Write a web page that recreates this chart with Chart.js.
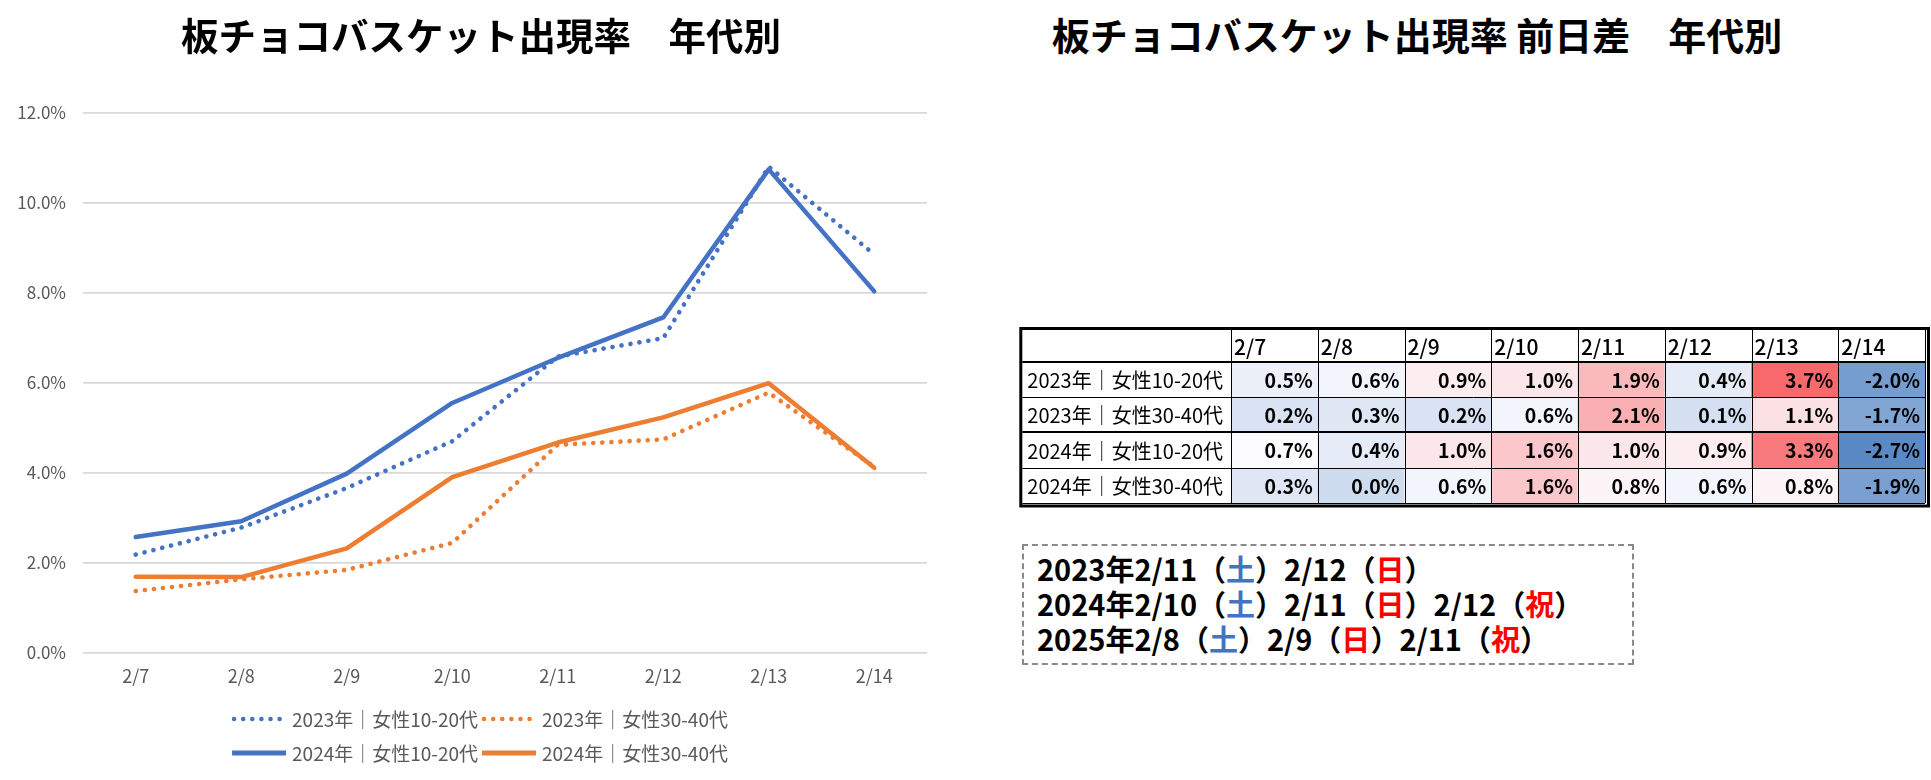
<!DOCTYPE html>
<html lang="ja">
<head>
<meta charset="utf-8">
<script src="https://cdn.jsdelivr.net/npm/chart.js@4.4.1/dist/chart.umd.min.js"></script>
<style>
  html, body { margin: 0; padding: 0; background: #fff; }
  body { width: 1931px; height: 780px; position: relative; overflow: hidden;
         font-family: 'Noto Sans CJK JP', 'Noto Sans', sans-serif; }
  #lineChart { position: absolute; left: 0; top: 0; }
  #tableChart { position: absolute; left: 1015px; top: 318px; }
  .title { position: absolute; top: 10.5px; transform: translateX(-50%);
           font-weight: bold; line-height: 46px; white-space: pre; color: #000; }
  #title1 { left: 481px; font-size: 37.5px; }
  #title2 { left: 1417px; font-size: 38px; }
  #note { position: absolute; left: 1022px; top: 544px; width: 608px; height: 117px;
          border: 2px dashed #8a8a8a; box-sizing: content-box; }
  #note .ln { position: absolute; left: 13px; font-size: 29px; font-weight: bold; line-height: 35px;
              white-space: pre; color: #000; }
  .sat { color: #4472C4; }
  .hol { color: #FF0000; }
</style>
</head>
<body>
<canvas id="lineChart" width="960" height="780"></canvas>
<div id="title1" class="title"></div>
<div id="title2" class="title"></div>
<canvas id="tableChart" width="916" height="200"></canvas>
<div id="note">
  <div class="ln" style="top:5px">2023年2/11（<span class="sat">土</span>）2/12（<span class="hol">日</span>）</div>
  <div class="ln" style="top:40px">2024年2/10（<span class="sat">土</span>）2/11（<span class="hol">日</span>）2/12（<span class="hol">祝</span>）</div>
  <div class="ln" style="top:75px">2025年2/8（<span class="sat">土</span>）2/9（<span class="hol">日</span>）2/11（<span class="hol">祝</span>）</div>
</div>
<script>
// ---------- data ----------
const dates = ['2/7', '2/8', '2/9', '2/10', '2/11', '2/12', '2/13', '2/14'];
const seriesNames = ['2023年｜女性10-20代', '2023年｜女性30-40代', '2024年｜女性10-20代', '2024年｜女性30-40代'];
const rate2023F1020 = [2.18, 2.78, 3.66, 4.70, 6.58, 6.99, 10.80, 8.85];
const rate2023F3040 = [1.37, 1.63, 1.84, 2.44, 4.62, 4.74, 5.78, 4.13];
const rate2024F1020 = [2.57, 2.92, 3.98, 5.55, 6.55, 7.45, 10.74, 8.03];
const rate2024F3040 = [1.69, 1.68, 2.32, 3.90, 4.67, 5.23, 5.99, 4.11];
const diff2023F1020 = [0.5, 0.6, 0.9, 1.0, 1.9, 0.4, 3.7, -2.0];
const diff2023F3040 = [0.2, 0.3, 0.2, 0.6, 2.1, 0.1, 1.1, -1.7];
const diff2024F1020 = [0.7, 0.4, 1.0, 1.6, 1.0, 0.9, 3.3, -2.7];
const diff2024F3040 = [0.3, 0.0, 0.6, 1.6, 0.8, 0.6, 0.8, -1.9];
const yTickMin = 0, yTickMax = 12, yTickStep = 2;
const title1 = '板チョコバスケット出現率　年代別';
const title2 = '板チョコバスケット出現率 前日差　年代別';

document.getElementById('title1').textContent = title1;
document.getElementById('title2').textContent = title2;

// ---------- styles ----------
const FONT = "'Noto Sans CJK JP', 'Noto Sans', sans-serif";
const BLUE = '#4472C4', ORANGE = '#ED7D31';
Chart.defaults.font.family = FONT;

const dotted = { borderDash: [0.1, 9], borderCapStyle: 'round', borderWidth: 4.6 };
const solid = { borderDash: [], borderCapStyle: 'round', borderWidth: 4.5 };

function lineDs(label, data, color, st) {
  return Object.assign({
    label, data, borderColor: color, backgroundColor: color,
    pointRadius: 0, pointHoverRadius: 0, tension: 0, fill: false, borderJoinStyle: 'round'
  }, st);
}

const legendPlugin = {
  id: 'rowLegend',
  afterDraw(chart, args, o) {
    const ctx = chart.ctx, ds = chart.data.datasets;
    ctx.save();
    ctx.font = o.font;
    o.rows.forEach((row, ri) => {
      const widths = row.map(i => o.lineLen + o.gap + ctx.measureText(ds[i].label).width);
      const total = widths.reduce((a, b) => a + b, 0) + o.itemGap * (row.length - 1);
      let x = (chart.width - total) / 2;
      const y = o.rowY[ri];
      row.forEach((i, k) => {
        const d = ds[i];
        const dashed = d.borderDash && d.borderDash.length;
        ctx.beginPath();
        ctx.strokeStyle = d.borderColor;
        ctx.lineWidth = dashed ? 4.5 : 5;
        ctx.lineCap = dashed ? 'round' : 'butt';
        ctx.setLineDash(dashed ? d.borderDash : []);
        ctx.moveTo(x + (dashed ? 2 : 0), y);
        ctx.lineTo(x + o.lineLen, y);
        ctx.stroke();
        ctx.setLineDash([]);
        ctx.fillStyle = o.color;
        ctx.textBaseline = 'middle';
        ctx.textAlign = 'left';
        ctx.fillText(d.label, x + o.lineLen + o.gap, y + 1);
        x += widths[k] + o.itemGap;
      });
    });
    ctx.restore();
  }
};

new Chart(document.getElementById('lineChart'), {
  type: 'line',
  data: {
    labels: dates,
    datasets: [
      lineDs(seriesNames[0], rate2023F1020, BLUE, dotted),
      lineDs(seriesNames[1], rate2023F3040, ORANGE, dotted),
      lineDs(seriesNames[2], rate2024F1020, BLUE, solid),
      lineDs(seriesNames[3], rate2024F3040, ORANGE, solid)
    ]
  },
  options: {
    responsive: false, animation: false, devicePixelRatio: 1,
    layout: { autoPadding: false, padding: { left: 0, right: 33, top: 112.7, bottom: 87.3 } },
    plugins: {
      legend: { display: false },
      tooltip: { enabled: false },
      title: { display: false },
      rowLegend: { font: `19px ${FONT}`, color: '#595959', rows: [[0, 1], [2, 3]], rowY: [719, 753], lineLen: 54, gap: 6, itemGap: 4 }
    },
    scales: {
      x: {
        offset: true,
        grid: { display: false, drawTicks: false },
        border: { display: false },
        ticks: { color: '#595959', font: { size: 18 }, padding: 13, maxRotation: 0 },
        afterFit: s => { s.height = 40; }
      },
      y: {
        min: yTickMin, max: yTickMax,
        ticks: { stepSize: yTickStep, color: '#595959', font: { size: 17 }, padding: 17,
                 callback: v => Number(v).toFixed(1) + '%' },
        grid: { color: '#D9D9D9', lineWidth: 1.7, drawTicks: false },
        border: { display: false },
        afterFit: s => { s.width = 83; }
      }
    }
  },
  plugins: [legendPlugin]
});

// ---------- table (heat map) ----------
const diffRows = [diff2023F1020, diff2023F3040, diff2024F1020, diff2024F3040];
const allDiffs = diffRows.flat();
const dMin = Math.min(...allDiffs), dMax = Math.max(...allDiffs), dMid = 0.7;
const cLow = [90, 138, 198], cMid = [252, 252, 255], cHigh = [248, 105, 107];
function heat(v) {
  let b, t;
  if (v <= dMid) { b = cLow; t = Math.pow((dMid - v) / (dMid - dMin), 0.8); }
  else { b = cHigh; t = Math.pow((v - dMid) / (dMax - dMid), 0.85); }
  t = Math.max(0, Math.min(1, t));
  const c = cMid.map((x, i) => Math.round(x + (b[i] - x) * t));
  return `rgb(${c[0]},${c[1]},${c[2]})`;
}

const tablePlugin = {
  id: 'tableGrid',
  afterDatasetsDraw(chart, args, o) {
    const { ctx, chartArea: a, scales: { x, y } } = chart;
    const n = chart.data.labels.length;
    const colW = x.getPixelForValue(1) - x.getPixelForValue(0);
    const colEdges = [];
    for (let i = 0; i < n; i++) colEdges.push(x.getPixelForValue(i) - colW / 2);
    colEdges.push(x.getPixelForValue(n - 1) + colW / 2);
    const rows = chart.data.datasets.length;
    const rowEdges = [];
    for (let r = 0; r <= rows; r++) rowEdges.push(y.getPixelForValue(r));
    const headTop = a.top - o.headerH;
    const labLeft = a.left - o.labelW;
    ctx.save();
    ctx.fillStyle = '#fff';
    ctx.fillRect(labLeft, headTop, a.right - labLeft, a.top - headTop);
    ctx.fillRect(labLeft, a.top, a.left - labLeft, a.bottom - a.top);
    ctx.strokeStyle = '#000';
    ctx.lineWidth = 1;
    ctx.beginPath();
    colEdges.forEach(cx => { ctx.moveTo(Math.round(cx) + 0.5, headTop); ctx.lineTo(Math.round(cx) + 0.5, a.bottom); });
    ctx.moveTo(Math.round(a.left) + 0.5, headTop); ctx.lineTo(Math.round(a.left) + 0.5, a.bottom);
    rowEdges.forEach((ry, r) => {
      if (r === 0 || r === 2) return;
      ctx.moveTo(labLeft, Math.round(ry) + 0.5); ctx.lineTo(a.right, Math.round(ry) + 0.5);
    });
    ctx.stroke();
    ctx.lineWidth = 2;
    ctx.beginPath();
    [0, 2].forEach(r => { ctx.moveTo(labLeft, Math.round(rowEdges[r])); ctx.lineTo(a.right, Math.round(rowEdges[r])); });
    ctx.stroke();
    ctx.lineWidth = 3;
    ctx.strokeRect(labLeft - 1.5, headTop - 1.5, a.right - labLeft + 5, a.bottom - headTop + 4.5);
    ctx.fillStyle = '#000';
    ctx.textBaseline = 'middle';
    ctx.textAlign = 'left';
    ctx.font = `500 21px ${FONT}`;
    chart.data.labels.forEach((lab, i) => ctx.fillText(lab, colEdges[i] + 3, (headTop + a.top) / 2 + 1));
    ctx.font = `20px ${FONT}`;
    chart.data.datasets.forEach((d, r) => ctx.fillText(d.label, labLeft + 5, (rowEdges[r] + rowEdges[r + 1]) / 2 + 1));
    ctx.font = `bold 19.5px ${FONT}`;
    ctx.textAlign = 'right';
    chart.data.datasets.forEach((d, r) => {
      d.values.forEach((v, i) => {
        ctx.fillText(v.toFixed(1) + '%', colEdges[i + 1] - 5, (rowEdges[r] + rowEdges[r + 1]) / 2 + 1);
      });
    });
    ctx.restore();
  }
};

new Chart(document.getElementById('tableChart'), {
  type: 'bar',
  data: {
    labels: dates,
    datasets: diffRows.map((vals, r) => ({
      label: seriesNames[r],
      values: vals,
      data: vals.map(() => 1),
      backgroundColor: vals.map(heat),
      borderWidth: 0,
      barPercentage: 1,
      categoryPercentage: 1
    }))
  },
  options: {
    responsive: false, animation: false, devicePixelRatio: 1,
    layout: { autoPadding: false, padding: { left: 216, right: 6, top: 43.7, bottom: 15 } },
    plugins: {
      legend: { display: false }, tooltip: { enabled: false }, title: { display: false },
      tableGrid: { headerH: 31.7, labelW: 208.7 }
    },
    scales: {
      x: { stacked: true, display: false, offset: true },
      y: { stacked: true, display: false, min: 0, max: diffRows.length, reverse: true }
    }
  },
  plugins: [tablePlugin]
});
</script>
</body>
</html>
